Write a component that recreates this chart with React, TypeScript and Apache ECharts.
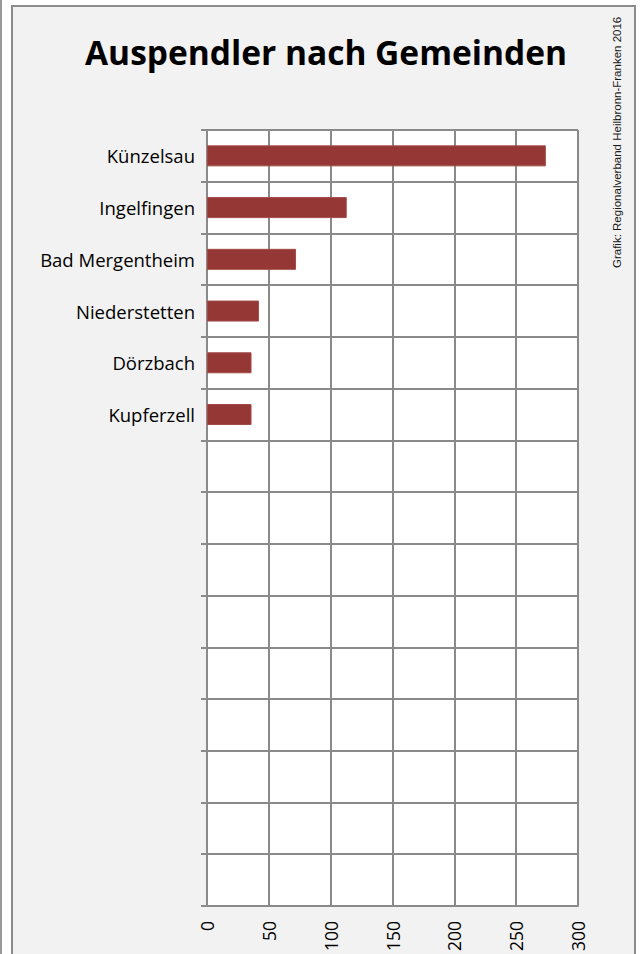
import React, { useEffect, useRef } from "react";
import * as echarts from "echarts";

const titleText = "Auspendler nach Gemeinden";
const sourceText = "Grafik: Regionalverband Heilbronn-Franken 2016";
const categories = ["Künzelsau", "Ingelfingen", "Bad Mergentheim", "Niederstetten", "Dörzbach", "Kupferzell"];
const values = [274, 113, 72, 42, 36, 36];
const emptyRowCount = 9;
const xMin = 0;
const xMax = 300;
const xStep = 50;

export default function App() {
  const ref = useRef<HTMLDivElement>(null);
  useEffect(() => {
    if (!ref.current) return;
    const chart = echarts.init(ref.current, undefined, { renderer: "svg" });
    const emptyNames = Array.from({ length: emptyRowCount }, (_, i) => `__empty${i}`);
    const yData = categories.concat(emptyNames);
    const gridColor = "#8a8a8a";
    chart.setOption({
      animation: false,
      backgroundColor: "transparent",
      title: {
        text: titleText,
        left: 80,
        top: 30,
        textStyle: { fontFamily: "Open Sans", fontWeight: "bold", fontSize: 33.5, color: "#000" },
      },
      graphic: [
        {
          type: "text",
          x: 617,
          y: 268,
          rotation: Math.PI / 2,
          style: {
            text: sourceText,
            fontFamily: "Liberation Sans",
            fontSize: 11.5,
            fill: "#1a1a1a",
            align: "left",
            verticalAlign: "middle",
          },
        },
      ],
      grid: {
        left: 207,
        top: 130,
        width: 371,
        height: 777,
        show: true,
        backgroundColor: "#ffffff",
        borderWidth: 0,
        containLabel: false,
      },
      xAxis: {
        type: "value",
        min: xMin,
        max: xMax,
        interval: xStep,
        axisLine: { show: true, lineStyle: { color: gridColor, width: 2 } },
        axisTick: { show: false },
        splitLine: { show: true, lineStyle: { color: gridColor, width: 2 } },
        axisLabel: {
          rotate: 90,
          margin: 15,
          fontFamily: "Open Sans",
          fontSize: 17.5,
          color: "#000",
        },
      },
      yAxis: {
        type: "category",
        inverse: true,
        data: yData,
        axisLine: { show: true, lineStyle: { color: gridColor, width: 2 } },
        axisTick: { show: true, inside: false, length: 6, interval: 0, lineStyle: { color: gridColor, width: 2 } },
        splitLine: { show: true, interval: 0, lineStyle: { color: gridColor, width: 2 } },
        axisLabel: {
          interval: 0,
          margin: 12,
          fontFamily: "Open Sans",
          fontSize: 18.5,
          color: "#000",
          formatter: (v: string) => (v.startsWith("__empty") ? "" : v),
        },
      },
      series: [
        {
          type: "bar",
          data: values,
          barWidth: 21,
          itemStyle: { color: "#953735", borderColor: "#a24b49", borderWidth: 1 },
        },
      ],
    });
    return () => chart.dispose();
  }, []);

  return (
    <div style={{ position: "fixed", left: 0, top: 0, width: 641, height: 954, background: "#fff", overflow: "hidden" }}>
      <div style={{ position: "absolute", left: 0, top: 0, width: 2, height: 954, background: "#999" }} />
      <div
        style={{
          position: "absolute",
          left: 11,
          top: 5,
          width: 621,
          height: 980,
          border: "2px solid #8c8c8c",
          background: "#f2f2f2",
        }}
      />
      <div ref={ref} style={{ position: "absolute", left: 0, top: 0, width: 641, height: 954 }} />
    </div>
  );
}
